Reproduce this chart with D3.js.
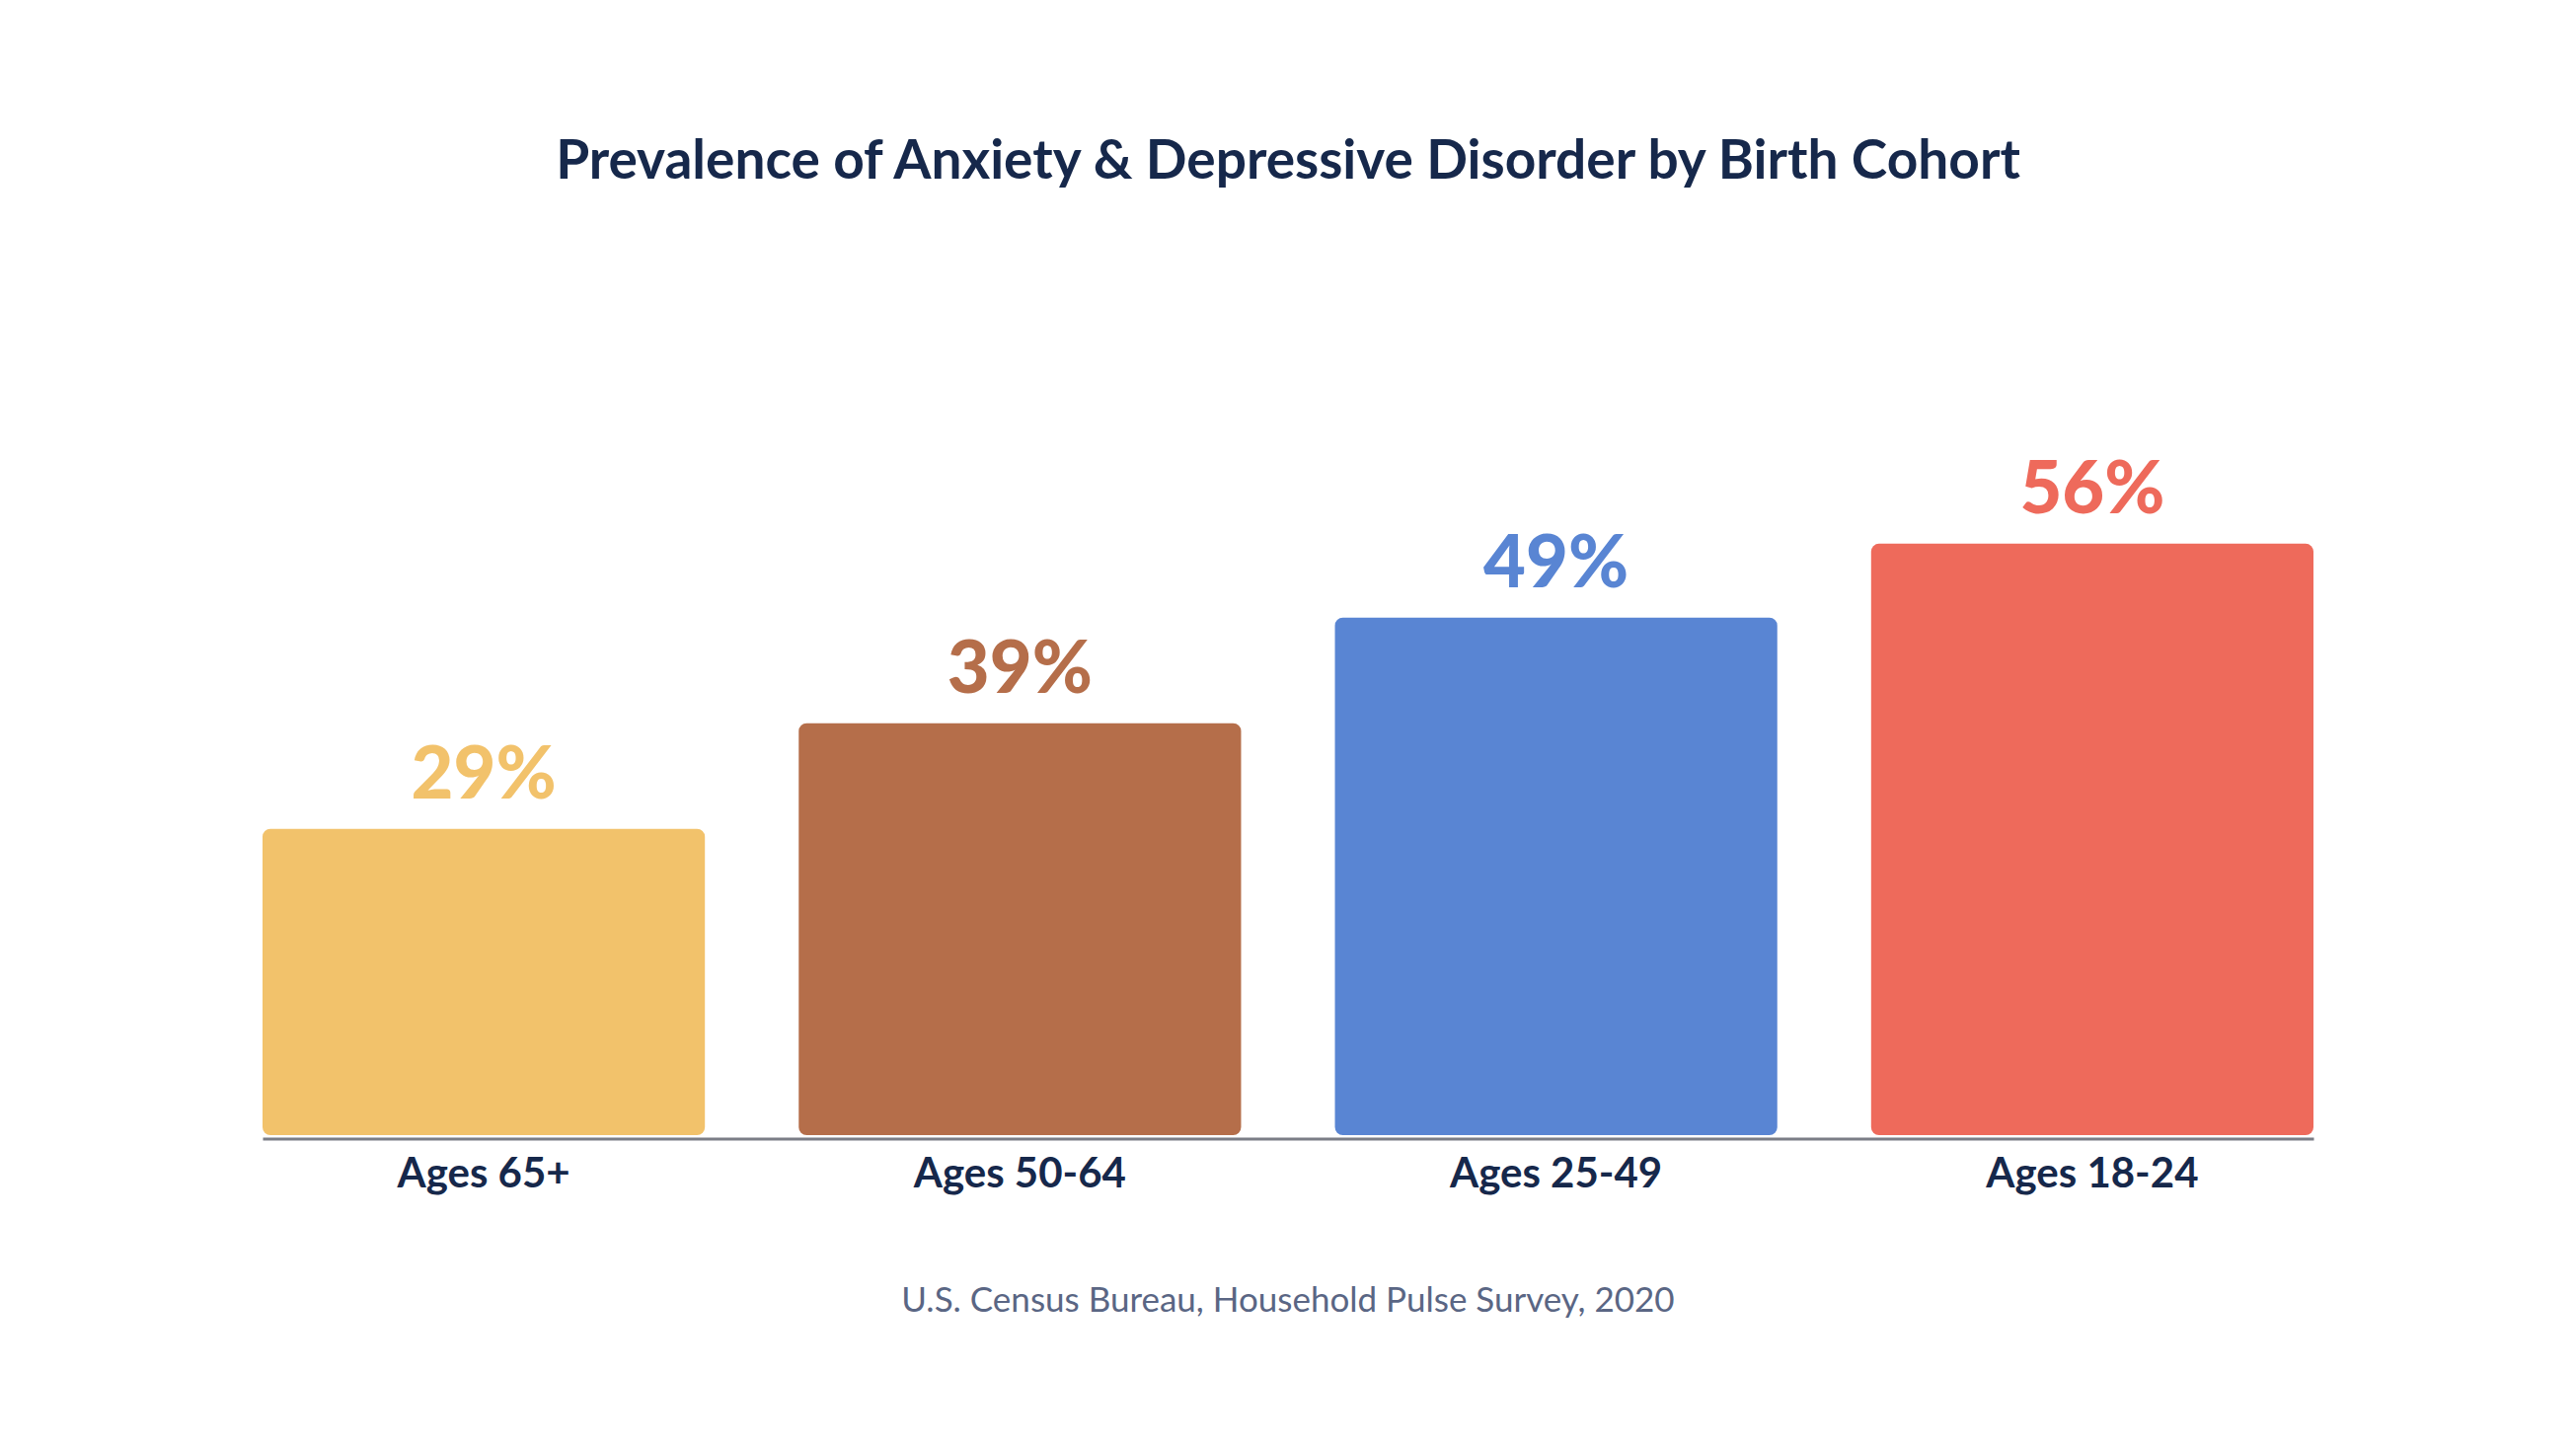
<!DOCTYPE html>
<html>
<head>
<meta charset="utf-8">
<script src="https://cdn.jsdelivr.net/npm/d3@7"></script>
<style>
  html, body { margin: 0; padding: 0; background: #ffffff; }
  svg { display: block; }
</style>
</head>
<body>
<svg id="chart" width="2610" height="1468"></svg>
<script>
const categories = ["Ages 65+", "Ages 50-64", "Ages 25-49", "Ages 18-24"];
const values = [29, 39, 49, 56];
const valueLabels = ["29%", "39%", "49%", "56%"];
const barColors = ["#F2C26B", "#B56E4A", "#5985D3", "#EE6A5B"];
const titleText = "Prevalence of Anxiety & Depressive Disorder by Birth Cohort";
const sourceText = "U.S. Census Bureau, Household Pulse Survey, 2020";

const W = 2610, H = 1468;
const svg = d3.select("#chart");
svg.append("rect").attr("width", W).attr("height", H).attr("fill", "#ffffff");

const baseY = 1150;
const x = d3.scaleBand().domain(categories).range([266, 2344]).paddingInner(0.175).paddingOuter(0);
const y = d3.scaleLinear().domain([0, 100]).range([baseY, baseY - 1070]);

const navy = "#16284B";
const font = "Lato, 'Noto Sans', sans-serif";

svg.append("text")
  .attr("x", W / 2).attr("y", 181)
  .attr("text-anchor", "middle")
  .attr("font-family", font).attr("font-weight", 700)
  .attr("font-size", 55).attr("fill", navy)
  .text(titleText);

const data = categories.map((c, i) => ({ c, v: values[i], label: valueLabels[i], color: barColors[i] }));

svg.selectAll("rect.bar").data(data).join("rect")
  .attr("class", "bar")
  .attr("x", d => x(d.c))
  .attr("y", d => y(d.v))
  .attr("width", x.bandwidth())
  .attr("height", d => baseY - y(d.v))
  .attr("rx", 8).attr("ry", 8)
  .attr("fill", d => d.color);

svg.selectAll("text.val").data(data).join("text")
  .attr("class", "val")
  .attr("x", d => x(d.c) + x.bandwidth() / 2)
  .attr("y", d => y(d.v) - 31)
  .attr("text-anchor", "middle")
  .attr("font-family", font).attr("font-weight", 900)
  .attr("font-size", 74)
  .attr("fill", d => d.color)
  .text(d => d.label);

const axis = svg.append("g").attr("transform", `translate(0,${baseY + 3.5})`)
  .call(d3.axisBottom(x).tickSize(0).tickPadding(20));
axis.select(".domain").attr("stroke", "#7B7D86").attr("stroke-width", 3);
axis.selectAll(".tick text")
  .attr("font-family", font).attr("font-weight", 700)
  .attr("font-size", 42).attr("fill", navy);

svg.append("text")
  .attr("x", W / 2).attr("y", 1329)
  .attr("text-anchor", "middle")
  .attr("font-family", font).attr("font-weight", 400)
  .attr("font-size", 35).attr("fill", "#5A6684")
  .text(sourceText);
</script>
</body>
</html>
